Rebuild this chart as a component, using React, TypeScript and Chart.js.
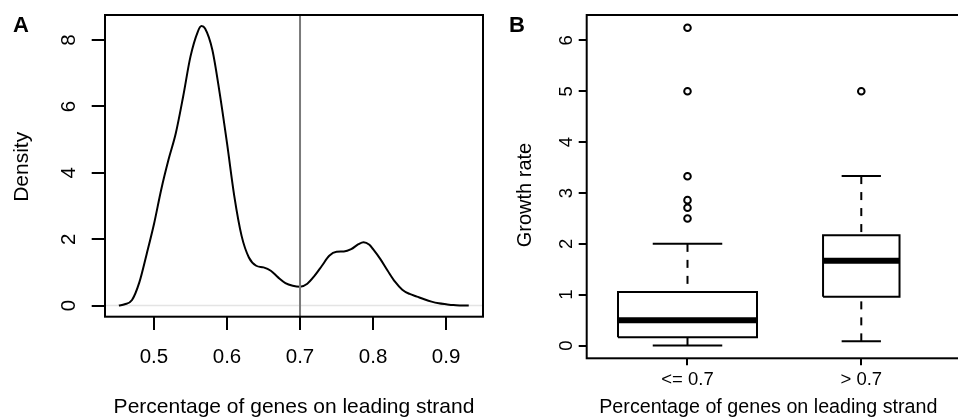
import React, { useEffect, useRef } from "react";
import { Chart, registerables } from "chart.js";

Chart.register(...registerables);

// ---------- Panel A data: density of % genes on leading strand ----------
const densityX = [0.452, 0.46, 0.47, 0.48, 0.49, 0.5, 0.51, 0.52, 0.53, 0.54, 0.55, 0.56, 0.565, 0.57, 0.58, 0.59, 0.6, 0.61, 0.62, 0.63, 0.64, 0.65, 0.66, 0.67, 0.68, 0.69, 0.7, 0.71, 0.72, 0.73, 0.74, 0.75, 0.76, 0.77, 0.78, 0.787, 0.795, 0.8, 0.81, 0.82, 0.83, 0.84, 0.85, 0.86, 0.87, 0.88, 0.89, 0.9, 0.91, 0.92, 0.931];
const densityY = [0.0, 0.04, 0.17, 0.7, 1.55, 2.45, 3.5, 4.4, 5.2, 6.3, 7.5, 8.25, 8.42, 8.35, 7.7, 6.4, 4.9, 3.3, 2.1, 1.45, 1.2, 1.15, 1.05, 0.85, 0.68, 0.6, 0.57, 0.66, 0.9, 1.2, 1.5, 1.62, 1.63, 1.7, 1.85, 1.91, 1.83, 1.7, 1.4, 1.05, 0.72, 0.48, 0.35, 0.27, 0.19, 0.12, 0.07, 0.04, 0.015, 0.005, 0.0];
const densityTicksX = [0.5, 0.6, 0.7, 0.8, 0.9];
const densityTicksY = [0, 2, 4, 6, 8];
const cutoff = 0.7;

// ---------- Panel B data: growth rate box plots ----------
const groups = ["<= 0.7", "> 0.7"];
const lowerWhisker = [0.0, 0.083];
const q1 = [0.165, 0.96];
const median = [0.5, 1.667];
const q3 = [1.054, 2.17];
const upperWhisker = [2.0, 3.333];
const outliers = [
  [2.5, 2.71, 2.86, 3.33, 5.0, 6.25],
  [5.0],
];
const growthTicksY = [0, 1, 2, 3, 4, 5, 6];

const xTitle = "Percentage of genes on leading strand";

// styling / geometry (not data)
const FONT = "'Liberation Sans', Arial, Helvetica, sans-serif";
const BOX_HALF = [0.4, 0.22];
const STAPLE_HALF = [0.2, 0.113];
const A_X = { min: 0.433, max: 0.9505 };
const A_Y = { min: -0.335, max: 8.755 };
const B_X = { min: 0.42, max: 2.522 };
const B_Y = { min: -0.25, max: 6.5 };

function drawRotated(ctx: CanvasRenderingContext2D, text: string, x: number, y: number, font: string) {
  ctx.save();
  ctx.translate(x, y);
  ctx.rotate(-Math.PI / 2);
  ctx.font = font;
  ctx.textAlign = "center";
  ctx.textBaseline = "alphabetic";
  ctx.fillText(text, 0, 0);
  ctx.restore();
}

const tickGrid = (len: number) => ({
  display: true,
  drawOnChartArea: false,
  drawTicks: true,
  tickLength: len,
  color: "#000",
  lineWidth: 2,
});

export default function App() {
  const refA = useRef<HTMLCanvasElement>(null);
  const refB = useRef<HTMLCanvasElement>(null);

  useEffect(() => {
    // ---------------- Panel A ----------------
    const pluginA = {
      id: "rStyleA",
      afterDraw(chart: any) {
        const { ctx, chartArea: ca, scales } = chart;
        const x = scales.x, y = scales.y;
        ctx.save();
        ctx.strokeStyle = "#000";
        ctx.lineWidth = 2;
        ctx.strokeRect(ca.left, ca.top, ca.right - ca.left, ca.bottom - ca.top);
        ctx.fillStyle = "#000";
        ctx.font = `20.5px ${FONT}`;
        ctx.textAlign = "center";
        ctx.textBaseline = "alphabetic";
        densityTicksX.forEach((v) => ctx.fillText(v.toFixed(1), x.getPixelForValue(v), 363.3));
        densityTicksY.forEach((v) => drawRotated(ctx, String(v), 75, y.getPixelForValue(v), `20.5px ${FONT}`));
        ctx.font = `21px ${FONT}`;
        ctx.fillText(xTitle, (ca.left + ca.right) / 2, 413.3);
        drawRotated(ctx, "Density", 28.3, (ca.top + ca.bottom) / 2 + 1, `21px ${FONT}`);
        ctx.font = `bold 22px ${FONT}`;
        ctx.textAlign = "left";
        ctx.fillText("A", 13, 32.3);
        ctx.restore();
      },
    };

    const chartA = new Chart(refA.current!, {
      type: "line",
      data: {
        datasets: [
          {
            label: "cutoff",
            data: [{ x: cutoff, y: A_Y.min }, { x: cutoff, y: A_Y.max }],
            borderColor: "#7a7a7a",
            borderWidth: 2,
            pointRadius: 0,
          },
          {
            label: "density",
            data: densityX.map((v, i) => ({ x: v, y: densityY[i] })),
            borderColor: "#000",
            borderWidth: 2,
            pointRadius: 0,
            cubicInterpolationMode: "monotone",
          },
          {
            label: "zero",
            data: [{ x: A_X.min, y: 0 }, { x: A_X.max, y: 0 }],
            borderColor: "#e4e4e4",
            borderWidth: 1.5,
            pointRadius: 0,
          },
        ],
      },
      options: {
        responsive: false,
        animation: false,
        devicePixelRatio: 1,
        layout: { padding: { left: 0, top: 15, right: 7, bottom: 0 } },
        plugins: { legend: { display: false }, tooltip: { enabled: false } },
        events: [],
        scales: {
          x: {
            type: "linear",
            min: A_X.min,
            max: A_X.max,
            afterBuildTicks: (s: any) => { s.ticks = densityTicksX.map((v) => ({ value: v })); },
            afterFit: (s: any) => { s.height = 102.3; },
            grid: tickGrid(13.3),
            border: { display: false },
            ticks: { display: false },
          },
          y: {
            type: "linear",
            min: A_Y.min,
            max: A_Y.max,
            afterBuildTicks: (s: any) => { s.ticks = densityTicksY.map((v) => ({ value: v })); },
            afterFit: (s: any) => { s.width = 105; },
            grid: tickGrid(13.3),
            border: { display: false },
            ticks: { display: false },
          },
        },
      } as any,
      plugins: [pluginA],
    });

    // ---------------- Panel B ----------------
    const pluginB = {
      id: "rStyleB",
      afterDraw(chart: any) {
        const { ctx, chartArea: ca, scales } = chart;
        const x = scales.x, y = scales.y;
        ctx.save();
        ctx.strokeStyle = "#000";
        ctx.lineWidth = 2;
        ctx.strokeRect(ca.left, ca.top, ca.right - ca.left + 20, ca.bottom - ca.top);
        ctx.fillStyle = "#000";
        ctx.font = `18.5px ${FONT}`;
        ctx.textAlign = "center";
        ctx.textBaseline = "alphabetic";
        groups.forEach((g, i) => ctx.fillText(g, x.getPixelForValue(i + 1), 385));
        growthTicksY.forEach((v) => drawRotated(ctx, String(v), 81.7, y.getPixelForValue(v), `18.5px ${FONT}`));
        ctx.font = `19.7px ${FONT}`;
        ctx.fillText(xTitle, (ca.left + ca.right) / 2 - 1, 413.3);
        drawRotated(ctx, "Growth rate", 41, 195, `20px ${FONT}`);
        ctx.font = `bold 22px ${FONT}`;
        ctx.textAlign = "left";
        ctx.fillText("B", 19, 32.3);
        ctx.restore();
      },
    };

    const line = (pts: { x: number; y: number }[], width: number, dash: number[] = []) => ({
      data: pts,
      borderColor: "#000",
      borderWidth: width,
      borderDash: dash,
      borderCapStyle: "butt",
      borderJoinStyle: "miter",
      pointRadius: 0,
      showLine: true,
      fill: false,
      tension: 0,
    });

    const dsB: any[] = [];
    groups.forEach((_, i) => {
      const c = i + 1;
      const h = BOX_HALF[i];
      const s = STAPLE_HALF[i];
      dsB.push({
        data: outliers[i].map((v) => ({ x: c, y: v })),
        showLine: false,
        pointRadius: 3.3,
        pointBorderWidth: 2,
        pointBorderColor: "#000",
        pointBackgroundColor: "#fff",
        borderColor: "#000",
      });
      dsB.push(line([{ x: c - h, y: median[i] }, { x: c + h, y: median[i] }], 6));
      dsB.push(line([
        { x: c - h, y: q1[i] }, { x: c + h, y: q1[i] }, { x: c + h, y: q3[i] },
        { x: c - h, y: q3[i] }, { x: c - h, y: q1[i] },
      ], 2));
      dsB.push(line([{ x: c, y: upperWhisker[i] }, { x: c, y: q3[i] }], 2, [8, 8]));
      dsB.push(line([{ x: c, y: lowerWhisker[i] }, { x: c, y: q1[i] }], 2, [8, 8]));
      dsB.push(line([{ x: c - s, y: upperWhisker[i] }, { x: c + s, y: upperWhisker[i] }], 2));
      dsB.push(line([{ x: c - s, y: lowerWhisker[i] }, { x: c + s, y: lowerWhisker[i] }], 2));
    });

    const chartB = new Chart(refB.current!, {
      type: "line",
      data: { datasets: dsB },
      options: {
        responsive: false,
        animation: false,
        devicePixelRatio: 1,
        layout: { padding: { left: 0, top: 15, right: 0, bottom: 0 } },
        plugins: { legend: { display: false }, tooltip: { enabled: false } },
        events: [],
        scales: {
          x: {
            type: "linear",
            min: B_X.min,
            max: B_X.max,
            afterBuildTicks: (s: any) => { s.ticks = groups.map((_, i) => ({ value: i + 1 })); },
            afterFit: (s: any) => { s.height = 60.7; },
            grid: tickGrid(7),
            border: { display: false },
            ticks: { display: false },
          },
          y: {
            type: "linear",
            min: B_Y.min,
            max: B_Y.max,
            afterBuildTicks: (s: any) => { s.ticks = growthTicksY.map((v) => ({ value: v })); },
            afterFit: (s: any) => { s.width = 96.7; },
            grid: tickGrid(8),
            border: { display: false },
            ticks: { display: false },
          },
        },
      } as any,
      plugins: [pluginB],
    });

    return () => {
      chartA.destroy();
      chartB.destroy();
    };
  }, []);

  return (
    <div style={{ position: "absolute", left: 0, top: 0, width: 958, height: 419, background: "#fff", overflow: "hidden" }}>
      <canvas ref={refA} width={490} height={419} style={{ position: "absolute", left: 0, top: 0, width: 490, height: 419 }} />
      <canvas ref={refB} width={468} height={419} style={{ position: "absolute", left: 490, top: 0, width: 468, height: 419 }} />
    </div>
  );
}
